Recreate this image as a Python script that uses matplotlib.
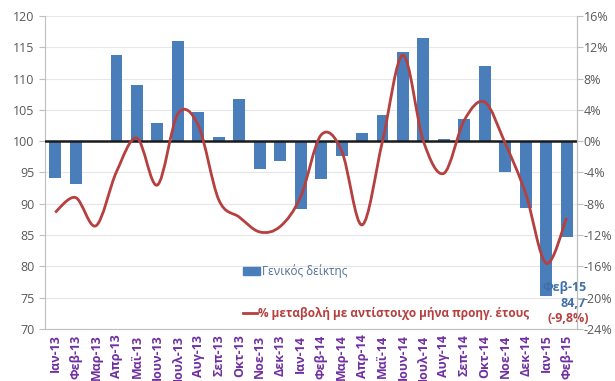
import matplotlib
matplotlib.use("Agg")
import matplotlib.pyplot as plt
from matplotlib.path import Path
from matplotlib.patches import PathPatch, Patch
from matplotlib.lines import Line2D

plt.rcParams['font.family'] = ['Open Sans', 'DejaVu Sans']

months = ['Ιαν-13', 'Φεβ-13', 'Μαρ-13', 'Απρ-13', 'Μαϊ-13', 'Ιουν-13', 'Ιουλ-13',
          'Αυγ-13', 'Σεπ-13', 'Οκτ-13', 'Νοε-13', 'Δεκ-13', 'Ιαν-14', 'Φεβ-14',
          'Μαρ-14', 'Απρ-14', 'Μαϊ-14', 'Ιουν-14', 'Ιουλ-14', 'Αυγ-14', 'Σεπ-14',
          'Οκτ-14', 'Νοε-14', 'Δεκ-14', 'Ιαν-15', 'Φεβ-15']
index_vals = [94.2, 93.2, 99.8, 113.8, 109.0, 102.9, 116.0, 104.6, 100.7, 106.7,
              95.6, 96.9, 89.2, 93.9, 97.6, 101.3, 104.2, 114.3, 116.5, 100.3,
              103.5, 112.0, 95.0, 89.4, 75.2, 84.7]
pct_change = [-9.1, -7.2, -10.8, -3.9, 0.4, -5.6, 3.5, 2.0, -7.5, -9.7,
              -11.6, -10.9, -7.1, 0.8, -1.2, -10.7, 0.0, 11.0, 0.0, -4.1,
              2.7, 5.0, -0.3, -6.7, -15.6, -9.8]

bar_color = '#4a7ebb'
line_color = '#b5403f'
label_color = '#7030a0'
tick_color = '#595959'

fig = plt.figure(figsize=(6.15, 3.81), dpi=100)
ax = fig.add_axes([0.073, 0.1365, 0.865, 0.8215])
ax2 = ax.twinx()

x = list(range(len(months)))
ax.bar(x, [v - 100 for v in index_vals], bottom=100, width=0.58, color=bar_color, zorder=2)
ax.axhline(100, color='#1a1a1a', lw=1.8, zorder=3)

ax.set_ylim(70, 120)
ax.set_yticks(range(70, 121, 5))
ax.set_xlim(-0.5, len(months) - 0.5)
ax.set_xticks(x)
ax.set_xticklabels(months, rotation=90, color=label_color, fontsize=9, fontweight='bold')
ax.tick_params(axis='x', length=0, pad=4)
ax.tick_params(axis='y', labelsize=9, colors=tick_color, length=4, color='#bfbfbf')
ax.grid(axis='y', color='#e6e6e6', lw=0.8, zorder=0)
ax.set_axisbelow(True)
ax.spines['top'].set_visible(False)
for s in ['left', 'bottom', 'right']:
    ax.spines[s].set_color('#bfbfbf')

ax2.set_ylim(-24, 16)
ax2.set_yticks(range(-24, 17, 4))
ax2.set_yticklabels([f'{t}%' for t in range(-24, 17, 4)])
ax2.tick_params(axis='y', labelsize=9, colors=tick_color, length=4, color='#bfbfbf', pad=1)
for s in ['top', 'left', 'bottom']:
    ax2.spines[s].set_visible(False)
ax2.spines['right'].set_color('#bfbfbf')

# smoothed line (Catmull-Rom as cubic Bezier segments)
pts = list(zip(x, pct_change))
verts = [pts[0]]
codes = [Path.MOVETO]
n = len(pts)
for i in range(n - 1):
    p0 = pts[max(i - 1, 0)]
    p1 = pts[i]
    p2 = pts[i + 1]
    p3 = pts[min(i + 2, n - 1)]
    c1 = (p1[0] + (p2[0] - p0[0]) / 6, p1[1] + (p2[1] - p0[1]) / 6)
    c2 = (p2[0] - (p3[0] - p1[0]) / 6, p2[1] - (p3[1] - p1[1]) / 6)
    verts += [c1, c2, p2]
    codes += [Path.CURVE4] * 3
ax2.add_patch(PathPatch(Path(verts, codes), fill=False, edgecolor=line_color, lw=2, zorder=4))

# legends
leg1 = ax.legend([Patch(color=bar_color)], ['Γενικός δείκτης'], loc='upper left',
                 bbox_to_anchor=(0.352, 0.24), frameon=False, fontsize=8.5,
                 handlelength=1.5, handleheight=0.6, handletextpad=0.1, labelcolor='#4f6f95')
ax.add_artist(leg1)
ax.legend([Line2D([], [], color=line_color, lw=2)],
          ['% μεταβολή με αντίστοιχο μήνα προηγ. έτους'], loc='upper left',
          bbox_to_anchor=(0.352, 0.105), frameon=False,
          handlelength=1.2, handletextpad=0.1,
          prop={'weight': 'bold', 'size': 8.5}, labelcolor=line_color)

# annotation for last month
ax.text(24.9, 76.7, 'Φεβ-15', color='#3e6fa8', fontsize=9, fontweight='bold', ha='center', va='center')
ax.text(25.3, 74.1, '84,7', color='#3e6fa8', fontsize=9, fontweight='bold', ha='center', va='center')
ax.text(25.1, 71.6, '(-9,8%)', color=line_color, fontsize=9, fontweight='bold', ha='center', va='center')

fig.savefig('out.png', dpi=100)
